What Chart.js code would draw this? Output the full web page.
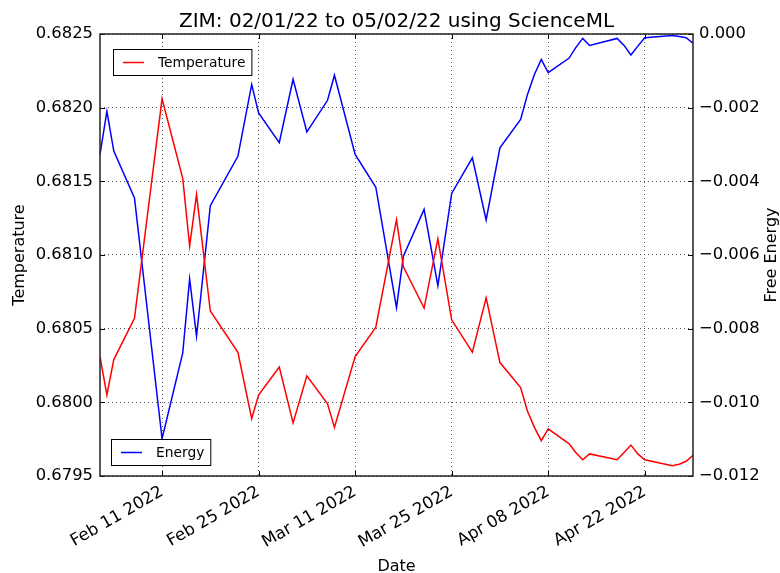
<!DOCTYPE html>
<html>
<head>
<meta charset="utf-8">
<script src="https://cdn.jsdelivr.net/npm/chart.js@4.4.1/dist/chart.umd.min.js"></script>
<style>
  html, body { margin: 0; padding: 0; background: #fff; }
  #wrap { width: 780px; height: 573px; }
</style>
</head>
<body>
<div id="wrap"><canvas id="chart"></canvas></div>
<script>
// trading days
const dates = [
  '2022-02-02','2022-02-03','2022-02-04','2022-02-07','2022-02-11','2022-02-14','2022-02-15','2022-02-16','2022-02-18',
  '2022-02-22','2022-02-24','2022-02-25','2022-02-28','2022-03-02','2022-03-04','2022-03-07','2022-03-08','2022-03-11',
  '2022-03-14','2022-03-17','2022-03-18','2022-03-21','2022-03-23','2022-03-25','2022-03-28','2022-03-30','2022-04-01',
  '2022-04-04','2022-04-05','2022-04-06','2022-04-07','2022-04-08','2022-04-11','2022-04-12','2022-04-13','2022-04-14',
  '2022-04-18','2022-04-19','2022-04-20','2022-04-21','2022-04-22','2022-04-26','2022-04-27','2022-04-28','2022-04-29'
];

const temperature = [
  0.68031, 0.68005, 0.68029, 0.68057, 0.68206, 0.68152, 0.68106, 0.68141, 0.68062,
  0.68034, 0.67989, 0.68005, 0.68024, 0.67986, 0.68018, 0.67999, 0.67983, 0.68031,
  0.68051, 0.68124, 0.68092, 0.68064, 0.68111, 0.68056, 0.68034, 0.68071, 0.68027,
  0.68010, 0.67994, 0.67983, 0.67974, 0.67982, 0.67972, 0.67966, 0.67961, 0.67965,
  0.67961, 0.67966, 0.67971, 0.67965, 0.67961, 0.67957, 0.67958, 0.67960, 0.67964
];

const energy = [
  -0.00327, -0.00210, -0.00318, -0.00445, -0.01099, -0.00866, -0.00665, -0.00821, -0.00466,
  -0.00332, -0.00137, -0.00214, -0.00295, -0.00123, -0.00266, -0.00180, -0.00112, -0.00327,
  -0.00416, -0.00743, -0.00603, -0.00476, -0.00683, -0.00433, -0.00336, -0.00505, -0.00309,
  -0.00232, -0.00164, -0.00110, -0.00069, -0.00105, -0.00066, -0.00037, -0.00012, -0.00031,
  -0.00012, -0.00031, -0.00057, -0.00033, -0.00010, -0.00004, -0.00007, -0.00010, -0.00025
];

const tickDates = ['2022-02-11','2022-02-25','2022-03-11','2022-03-25','2022-04-08','2022-04-22'];
const tickLabels = ['Feb 11 2022','Feb 25 2022','Mar 11 2022','Mar 25 2022','Apr 08 2022','Apr 22 2022'];
const tempTicks = [0.6795, 0.6800, 0.6805, 0.6810, 0.6815, 0.6820, 0.6825];
const energyTicks = [-0.012, -0.010, -0.008, -0.006, -0.004, -0.002, 0.000];

const FONT = "'DejaVu Sans', sans-serif";

// days since the first date, used as x
const day0 = Date.parse(dates[0]);
const toDay = d => Math.round((Date.parse(d) - day0) / 86400000);
const xs = dates.map(toDay);
const tickDays = tickDates.map(toDay);

const framePlugin = {
  id: 'frame',
  afterDraw(chart) {
    const { ctx, chartArea: a, scales } = chart;
    ctx.save();

    // inward tick marks
    ctx.strokeStyle = '#000';
    ctx.lineWidth = 1;
    ctx.beginPath();
    tickDays.forEach(v => {
      const px = Math.round(scales.x.getPixelForValue(v)) + 0.5;
      ctx.moveTo(px, a.bottom); ctx.lineTo(px, a.bottom - 5);
      ctx.moveTo(px, a.top); ctx.lineTo(px, a.top + 5);
    });
    tempTicks.forEach(v => {
      const py = Math.round(scales.y.getPixelForValue(v)) + 0.5;
      ctx.moveTo(a.left, py); ctx.lineTo(a.left + 5, py);
    });
    energyTicks.forEach(v => {
      const py = Math.round(scales.y1.getPixelForValue(v)) + 0.5;
      ctx.moveTo(a.right, py); ctx.lineTo(a.right - 5, py);
    });
    ctx.stroke();

    // frame
    ctx.strokeStyle = '#222';
    ctx.lineWidth = 1.5;
    ctx.strokeRect(a.left, a.top, a.right - a.left, a.bottom - a.top);

    // title
    ctx.fillStyle = '#000';
    ctx.font = '20px ' + FONT;
    ctx.textAlign = 'center';
    ctx.textBaseline = 'alphabetic';
    ctx.fillText('ZIM: 02/01/22 to 05/02/22 using ScienceML', (a.left + a.right) / 2, 26.5);

    // right axis title, reading bottom to top
    ctx.font = '16px ' + FONT;
    ctx.translate(772, (a.top + a.bottom) / 2);
    ctx.rotate(-Math.PI / 2);
    ctx.textBaseline = 'middle';
    ctx.fillText('Free Energy', 0, 0);
    ctx.restore();

    // legends
    const drawLegend = (ds, left, top) => {
      ctx.save();
      ctx.font = '13.8px ' + FONT;
      const tw = ctx.measureText(ds.label).width;
      const w = 10 + 21 + 14 + tw + 6;
      const h = 26;
      ctx.fillStyle = '#fff';
      ctx.fillRect(left, top, w, h);
      ctx.strokeStyle = '#000';
      ctx.lineWidth = 1;
      ctx.strokeRect(left + 0.5, top + 0.5, w, h);
      ctx.strokeStyle = ds.borderColor;
      ctx.lineWidth = 1.5;
      ctx.beginPath();
      ctx.moveTo(left + 10, top + h / 2 + 0.5);
      ctx.lineTo(left + 31, top + h / 2 + 0.5);
      ctx.stroke();
      ctx.fillStyle = '#000';
      ctx.textBaseline = 'middle';
      ctx.textAlign = 'left';
      ctx.fillText(ds.label, left + 45, top + h / 2 + 1);
      ctx.restore();
    };
    drawLegend(chart.data.datasets[0], a.left + 13, a.top + 15);
    drawLegend(chart.data.datasets[1], a.left + 11, a.bottom - 37);
  }
};

new Chart(document.getElementById('chart'), {
  type: 'line',
  data: {
    datasets: [
      {
        label: 'Temperature',
        data: xs.map((x, i) => ({ x, y: temperature[i] })),
        yAxisID: 'y',
        borderColor: '#ff0000',
        borderWidth: 1.5,
        pointRadius: 0,
        tension: 0
      },
      {
        label: 'Energy',
        data: xs.map((x, i) => ({ x, y: energy[i] })),
        yAxisID: 'y1',
        borderColor: '#0000ff',
        borderWidth: 1.5,
        pointRadius: 0,
        tension: 0
      }
    ]
  },
  options: {
    responsive: true,
    maintainAspectRatio: false,
    animation: false,
    layout: { padding: { top: 34, left: 0, right: 0, bottom: 0 } },
    plugins: {
      legend: { display: false },
      title: { display: false },
      tooltip: { enabled: false }
    },
    scales: {
      x: {
        type: 'linear',
        min: xs[0],
        max: xs[xs.length - 1],
        afterBuildTicks: s => { s.ticks = tickDays.map(v => ({ value: v })); },
        afterFit: s => { s.height = 97; },
        grid: { color: '#555', lineWidth: 1, drawTicks: false },
        border: { display: false, dash: [1, 3] },
        ticks: {
          autoSkip: false,
          minRotation: 30,
          maxRotation: 30,
          padding: 6,
          color: '#000',
          font: { family: FONT, size: 16.7 },
          callback: v => tickLabels[tickDays.indexOf(v)]
        },
        title: {
          display: true,
          text: 'Date',
          color: '#000',
          font: { family: FONT, size: 16, lineHeight: 0.8 },
          padding: 0
        }
      },
      y: {
        position: 'left',
        min: tempTicks[0],
        max: tempTicks[tempTicks.length - 1],
        afterBuildTicks: s => { s.ticks = tempTicks.map(v => ({ value: v })); },
        afterFit: s => { s.width = 100; },
        grid: { color: '#555', lineWidth: 1, drawTicks: false },
        border: { display: false, dash: [1, 3] },
        ticks: {
          padding: 7,
          color: '#000',
          font: { family: FONT, size: 16.4 },
          callback: v => v.toFixed(4)
        },
        title: {
          display: true,
          text: 'Temperature',
          color: '#000',
          font: { family: FONT, size: 16, lineHeight: 1 },
          padding: { top: 12, bottom: 0 }
        }
      },
      y1: {
        position: 'right',
        min: energyTicks[0],
        max: energyTicks[energyTicks.length - 1],
        afterBuildTicks: s => { s.ticks = energyTicks.map(v => ({ value: v })); },
        afterFit: s => { s.width = 87; },
        grid: { drawOnChartArea: false, drawTicks: false },
        border: { display: false },
        ticks: {
          padding: 6,
          color: '#000',
          font: { family: FONT, size: 16.4 },
          callback: v => (v < 0 ? '\u2212' : '') + Math.abs(v).toFixed(3)
        }
      }
    }
  },
  plugins: [framePlugin]
});
</script>
</body>
</html>
